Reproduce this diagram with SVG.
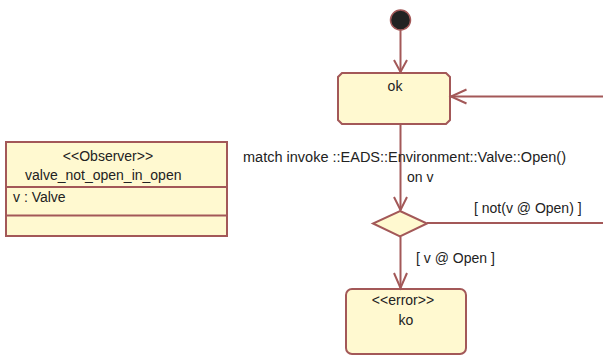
<svg xmlns="http://www.w3.org/2000/svg" width="603" height="356" viewBox="0 0 603 356">
  <style>
    .shape { fill: #fff9d0; stroke: #a35858; stroke-width: 2; }
    .edge { fill: none; stroke: #a35858; stroke-width: 2; }
    .head { fill: none; stroke: #a35858; stroke-width: 2; stroke-linejoin: miter; }
    text { font-family: "Liberation Sans", Arial, sans-serif; font-size: 14px; fill: #222; }
    .mid { text-anchor: middle; }
  </style>

  <!-- observer class -->
  <g id="observer">
    <rect class="shape" x="6" y="142" width="221" height="94"/>
    <line class="edge" x1="6" y1="187" x2="227" y2="187"/>
    <line class="edge" x1="6" y1="215.5" x2="227" y2="215.5"/>
    <text class="mid" x="108" y="161" font-size="11.5">&lt;&lt;Observer&gt;&gt;</text>
    <text x="25" y="180" font-size="12.7">valve_not_open_in_open</text>
    <text x="13" y="202" font-size="12.8">v : Valve</text>
  </g>

  <!-- initial pseudostate -->
  <g id="initial">
    <circle cx="400.5" cy="20" r="10" fill="#222" stroke="#a35858" stroke-width="1.5"/>
  </g>

  <!-- state ok -->
  <g id="ok">
    <path class="shape" d="M342,73 H446 L450,77 V120 L446,124 H342 L338,120 V77 Z"/>
    <text class="mid" x="395" y="91">ok</text>
  </g>

  <!-- choice -->
  <g id="choice">
    <polygon class="shape" points="400,211 427,223.5 400,236.5 373,223.5"/>
  </g>

  <!-- error state ko -->
  <g id="ko">
    <rect class="shape" x="346" y="289" width="120" height="65" rx="6" ry="6"/>
    <text class="mid" x="403" y="305">&lt;&lt;error&gt;&gt;</text>
    <text class="mid" x="406" y="325">ko</text>
  </g>

  <!-- transitions -->
  <g id="connectors">
    <line class="edge" x1="400.5" y1="30" x2="400.5" y2="72"/>
    <polyline class="head" points="394,60 400.5,72 407,60"/>

    <line class="edge" x1="603" y1="96.5" x2="451" y2="96.5"/>
    <polyline class="head" points="466.5,89.5 451,96.5 466.5,103.5"/>

    <line class="edge" x1="400.5" y1="124" x2="400.5" y2="210"/>
    <polyline class="head" points="394,197 400.5,210 407,197"/>
    <text x="243" y="162" textLength="323" lengthAdjust="spacingAndGlyphs">match invoke ::EADS::Environment::Valve::Open()</text>
    <text x="407" y="182">on v</text>

    <line class="edge" x1="427" y1="223" x2="603" y2="223"/>
    <text x="474" y="213">[ not(v @ Open) ]</text>

    <line class="edge" x1="400.5" y1="237" x2="400.5" y2="288"/>
    <polyline class="head" points="394,273 400.5,288 407,273"/>
    <text x="416" y="263">[ v @ Open ]</text>
  </g>
</svg>
